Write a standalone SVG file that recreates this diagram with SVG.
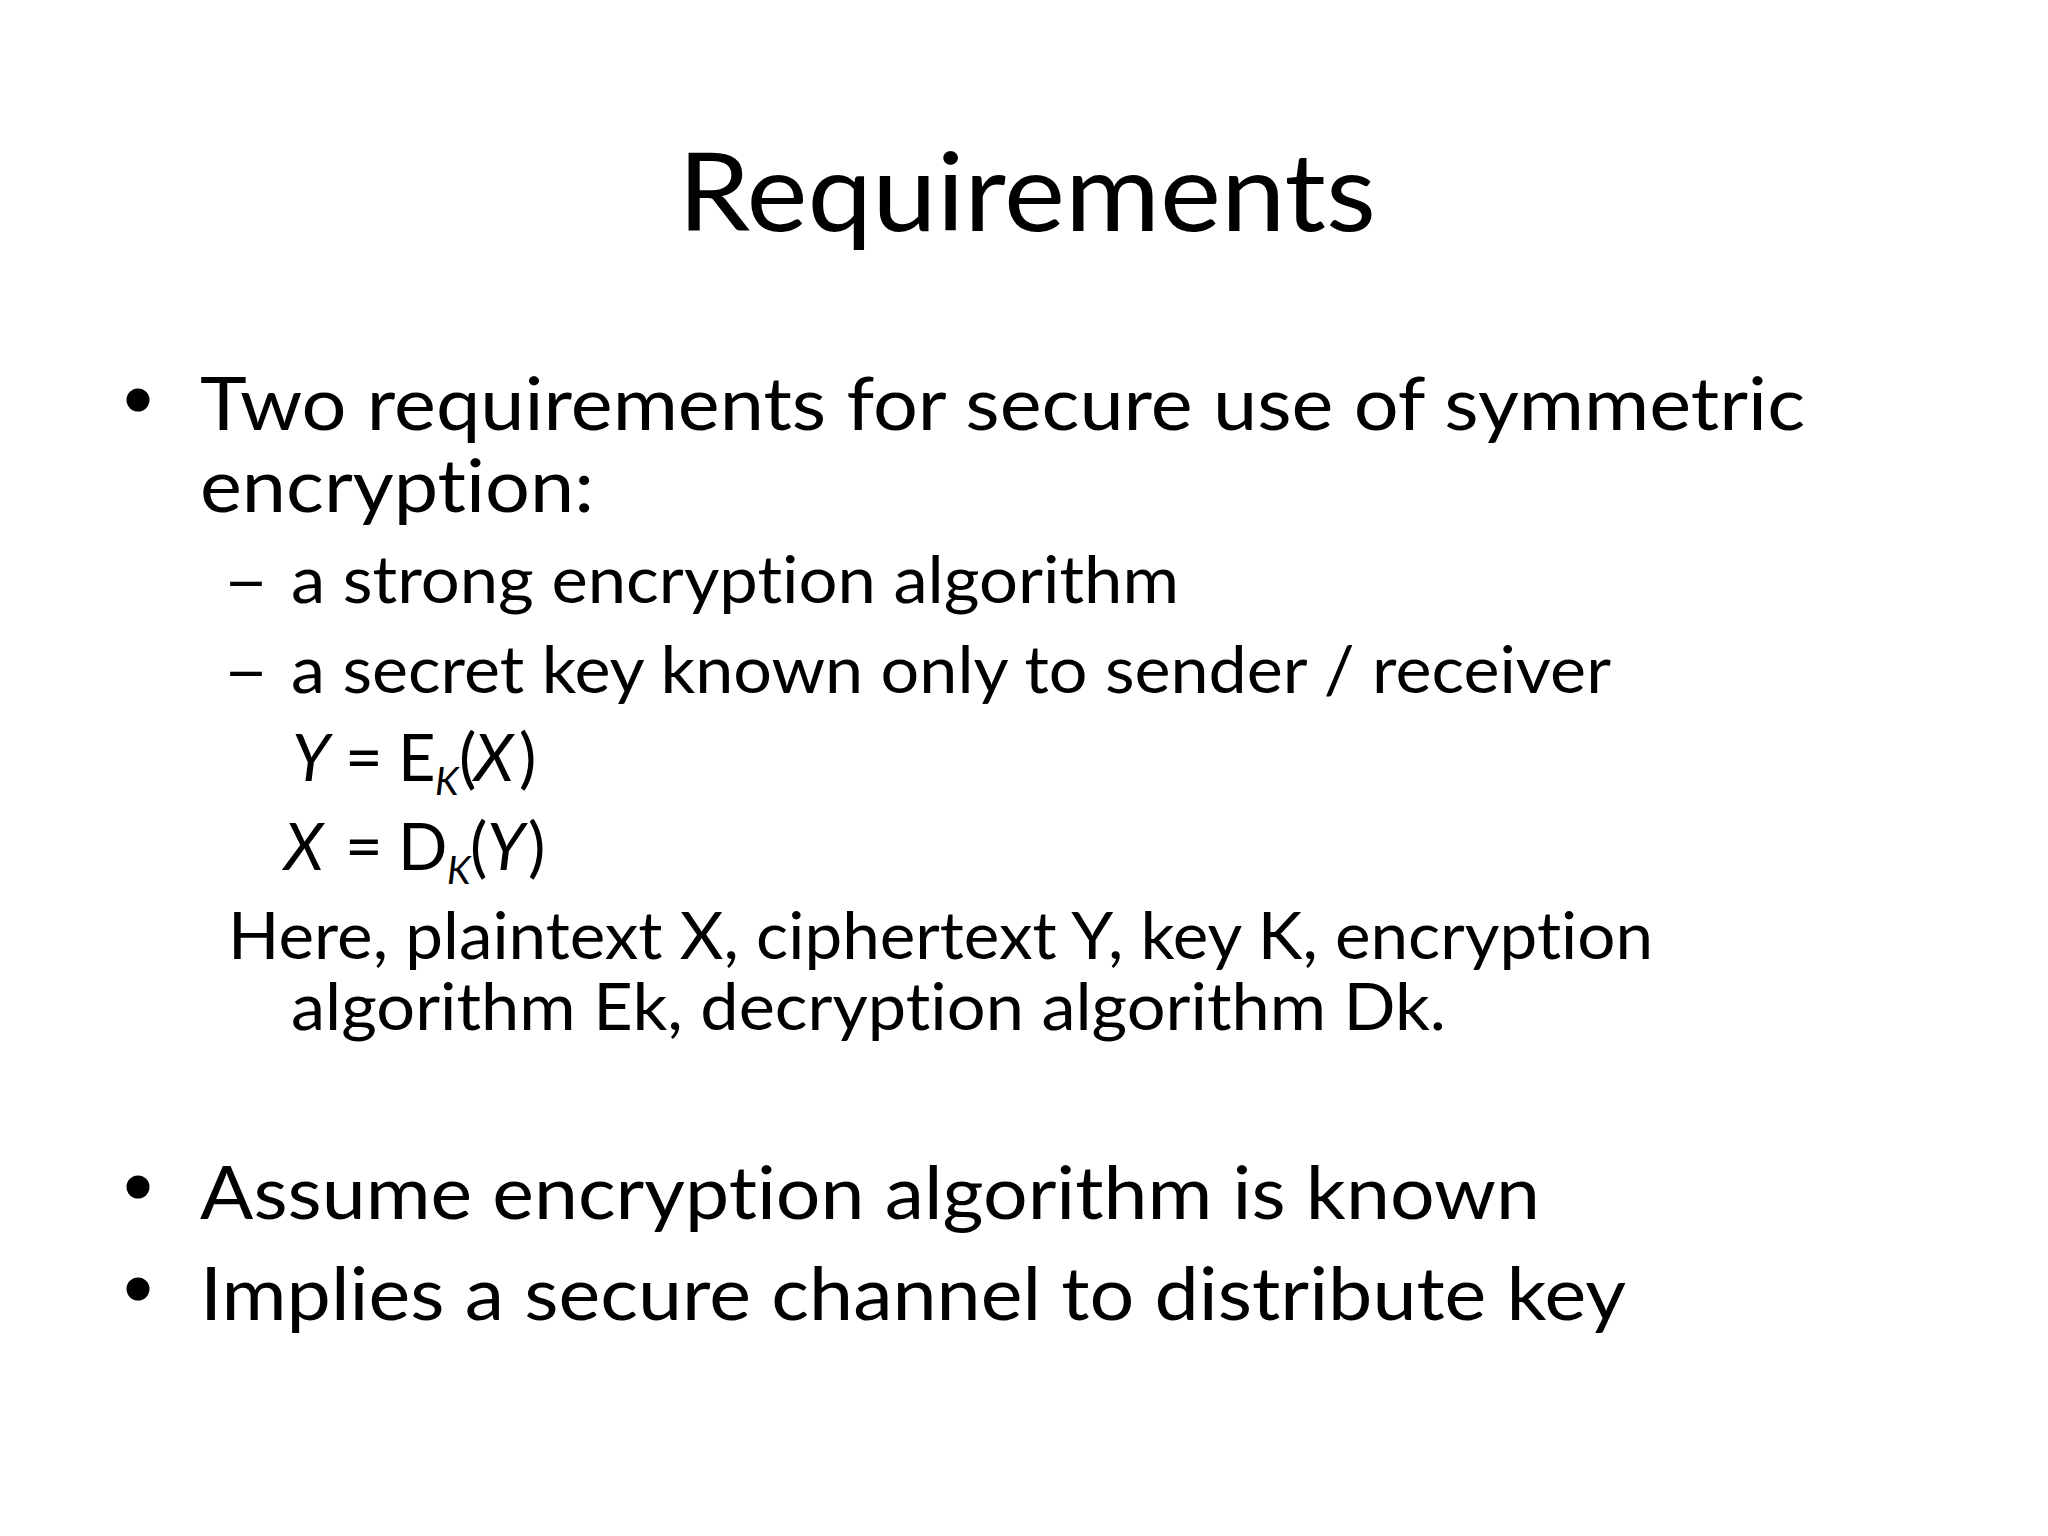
<svg xmlns="http://www.w3.org/2000/svg" width="2048" height="1536" viewBox="0 0 2048 1536">
<style>
text{font-family:Lato,"Open Sans","Liberation Sans",sans-serif;fill:#000;font-variant-ligatures:none;font-feature-settings:"liga" 0,"clig" 0}
.title{font-size:109px}
.l1{font-size:74px}
.l2{font-size:65px}
.sub{font-size:38px;font-style:italic}
.it{font-style:italic}
</style>
<rect width="2048" height="1536" fill="#fff"/>
<g id="title">
<text class="title" x="678" y="231" textLength="698" lengthAdjust="spacingAndGlyphs">Requirements</text>
</g>
<g id="bullet1">
<circle cx="138" cy="400" r="11.5"/>
<text class="l1" x="200" y="430" textLength="1605" lengthAdjust="spacingAndGlyphs">Two requirements for secure use of symmetric</text>
<text class="l1" x="200" y="512" textLength="394" lengthAdjust="spacingAndGlyphs">encryption:</text>
</g>
<g id="sub1">
<text class="l2" x="223" y="603" textLength="46" lengthAdjust="spacingAndGlyphs">–</text>
<text class="l2" x="291" y="603" textLength="888" lengthAdjust="spacingAndGlyphs">a strong encryption algorithm</text>
</g>
<g id="sub2">
<text class="l2" x="223" y="693" textLength="46" lengthAdjust="spacingAndGlyphs">–</text>
<text class="l2" x="291" y="693" textLength="1320" lengthAdjust="spacingAndGlyphs">a secret key known only to sender / receiver</text>
</g>
<g id="eq1">
<text class="l2 it" x="292" y="781">Y</text>
<text class="l2" x="345" y="781">=</text>
<text class="l2" x="398" y="781">E</text>
<text class="sub" x="435" y="795">K</text>
<text class="l2" x="459" y="781">(</text>
<text class="l2 it" x="474" y="781">X</text>
<text class="l2" x="519" y="781">)</text>
</g>
<g id="eq2">
<text class="l2 it" x="284" y="870">X</text>
<text class="l2" x="345" y="870">=</text>
<text class="l2" x="398" y="870">D</text>
<text class="sub" x="447" y="884">K</text>
<text class="l2" x="470" y="870">(</text>
<text class="l2 it" x="487" y="870">Y</text>
<text class="l2" x="528" y="870">)</text>
</g>
<g id="note">
<text class="l2" x="228" y="959" textLength="1425" lengthAdjust="spacingAndGlyphs">Here, plaintext X, ciphertext Y, key K, encryption</text>
<text class="l2" x="291" y="1030" textLength="1155" lengthAdjust="spacingAndGlyphs">algorithm Ek, decryption algorithm Dk.</text>
</g>
<g id="bullet2">
<circle cx="138" cy="1187" r="11.5"/>
<text class="l1" x="200" y="1219" textLength="1340" lengthAdjust="spacingAndGlyphs">Assume encryption algorithm is known</text>
</g>
<g id="bullet3">
<circle cx="138" cy="1289" r="11.5"/>
<text class="l1" x="200" y="1320" textLength="1426" lengthAdjust="spacingAndGlyphs">Implies a secure channel to distribute key</text>
</g>
</svg>
